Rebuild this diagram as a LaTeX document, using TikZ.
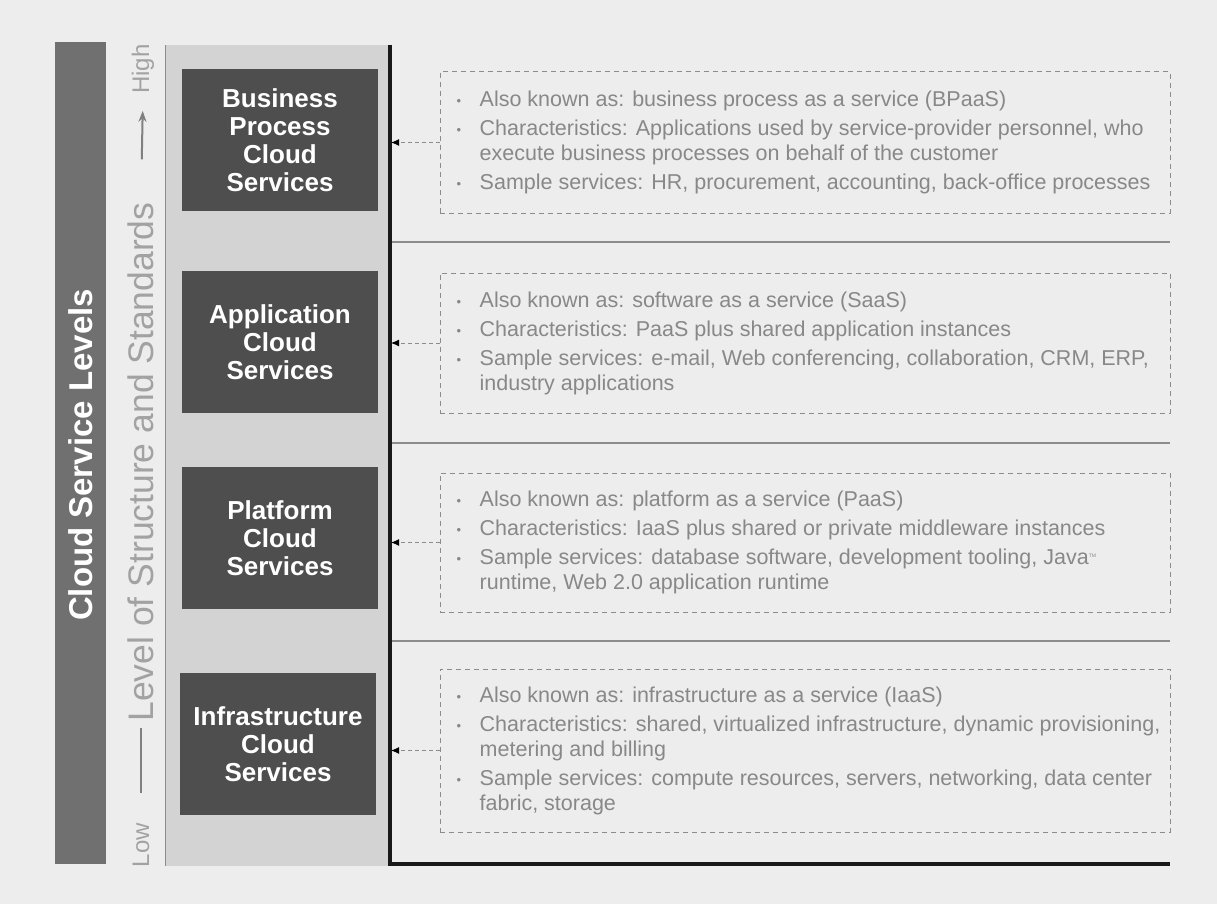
\documentclass[tikz,border=0pt]{standalone}
\usepackage{fontspec}
\setmainfont{Liberation Sans}
\usetikzlibrary{arrows.meta,positioning}

\definecolor{pagegray}{HTML}{EDEDED}
\definecolor{bargray}{HTML}{707070}
\definecolor{colgray}{HTML}{D3D3D3}
\definecolor{boxgray}{HTML}{4E4E4E}
\definecolor{textgray}{HTML}{888888}
\definecolor{axisgray}{HTML}{A2A2A2}
\definecolor{linegray}{HTML}{8C8C8C}

\newcommand{\bul}{\makebox[23pt][l]{\raisebox{1pt}{\fontsize{13}{13}\selectfont\textbullet}}}
\newcommand{\cont}{\hspace*{23pt}}

\tikzset{
  levelbox/.style={fill=boxgray, text=white, minimum width=196pt, minimum height=142pt,
    align=center, font=\fontsize{26}{28}\selectfont\bfseries},
  infobox/.style={draw=linegray, line width=1pt, dash pattern=on 5pt off 4pt,
    minimum width=730pt},
  infotext/.style={anchor=west, align=left, text=textgray, inner sep=0pt,
    font=\fontsize{21.5}{25}\selectfont},
  axislabel/.style={rotate=90, text=axisgray, inner sep=0pt},
  axisline/.style={draw=gray, line width=2pt},
  link/.style={draw=linegray, line width=1pt, dash pattern=on 4pt off 3pt,
    shorten >=1pt, -{Latex[length=8pt,width=7pt,color=black]}}
}

\begin{document}
\begin{tikzpicture}[x=1pt,y=-1pt]
    \useasboundingbox (0,0) rectangle (1217,904);
    \fill[pagegray] (0,0) rectangle (1217,904);

    % Left bar and light column
    \fill[bargray] (55,42) rectangle (106,864);
    \fill[colgray] (165,45) rectangle (390,866);
    \draw[linegray, line width=1pt] (165,45) -- (165,866);
    \node[rotate=90, text=white, font=\fontsize{33}{33}\selectfont\bfseries] (title) at (81,455) {Cloud Service Levels};

    % Axis from low to high
    \node[axislabel, font=\fontsize{35.5}{36}\selectfont] (level) at (141,462) {Level of Structure and Standards};
    \node[axislabel, font=\fontsize{24}{24}\selectfont] (low) at (141,845) {Low};
    \node[axislabel, font=\fontsize{24}{24}\selectfont] (high) at (143,69) {High};
    \draw[axisline, shorten <=30pt, shorten >=6pt] (low.east) -- (level.west);
    \draw[axisline, -{Stealth[length=11pt,width=8pt]}, shorten <=43pt, shorten >=17pt] (level.east) -- (high.west);

    % Spine and separators
    \coordinate (spine) at (390,45);
    \coordinate (spinebot) at (390,864);
    \coordinate (baseend) at (1170,864);
    \draw[line width=4pt, black!90] (spine) -- (spinebot) -- (baseend);
    \foreach \y in {242,443,641} {
        \draw[linegray, line width=1.2pt] (392,\y) -- (1170,\y);
    }

    % Service levels
    \node[levelbox] (bpcs) at (280,140) {Business\\Process\\Cloud\\Services};
    \node[levelbox] (acs) at (280,342) {Application\\Cloud\\Services};
    \node[levelbox] (pcs) at (280,538) {Platform\\Cloud\\Services};
    \node[levelbox] (ics) at (278,744) {Infrastructure\\Cloud\\Services};

    % Dashed info boxes
    \node[infobox, minimum height=141pt] (bpinfo) at (805,142.5) {};
    \node[infobox, minimum height=140pt] (appinfo) at (805,343) {};
    \node[infobox, minimum height=139pt] (platinfo) at (805,542.5) {};
    \node[infobox, minimum height=163pt] (infinfo) at (805,750.5) {};

    \node[infotext] (bptext) at ([xshift=17pt]bpinfo.west) {%
        \bul Also known as: business process as a service (BPaaS)\\[4pt]
        \bul Characteristics: Applications used by service-provider personnel, who\\
        \cont execute business processes on behalf of the customer\\[4pt]
        \bul Sample services: HR, procurement, accounting, back-office processes};
    \node[infotext] (apptext) at ([xshift=17pt]appinfo.west) {%
        \bul Also known as: software as a service (SaaS)\\[4pt]
        \bul Characteristics: PaaS plus shared application instances\\[4pt]
        \bul Sample services: e-mail, Web conferencing, collaboration, CRM, ERP,\\
        \cont industry applications};
    \node[infotext] (plattext) at ([xshift=17pt]platinfo.west) {%
        \bul Also known as: platform as a service (PaaS)\\[4pt]
        \bul Characteristics: IaaS plus shared or private middleware instances\\[4pt]
        \bul Sample services: database software, development tooling, Java\textsuperscript{\tiny TM}\\
        \cont runtime, Web 2.0 application runtime};
    \node[infotext] (inftext) at ([xshift=17pt]infinfo.west) {%
        \bul Also known as: infrastructure as a service (IaaS)\\[4pt]
        \bul Characteristics: shared, virtualized infrastructure, dynamic provisioning,\\
        \cont metering and billing\\[4pt]
        \bul Sample services: compute resources, servers, networking, data center\\
        \cont fabric, storage};

    % Links to the spine
    \foreach \n in {bpinfo,appinfo,platinfo,infinfo} {
        \draw[link] (\n.west) -- (\n.west -| spine);
    }
\end{tikzpicture}
\end{document}
